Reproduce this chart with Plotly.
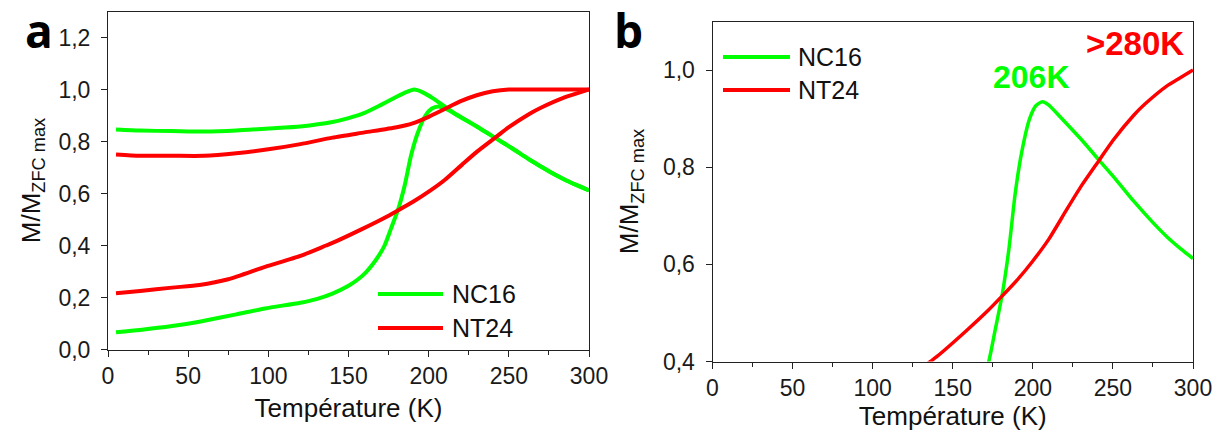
import plotly.graph_objects as go

# ---------------- data ----------------
# NC16 (green) – ZFC branch
T_zfc_nc16 = [5, 20, 40, 57, 80, 98, 120, 130, 140, 150, 156, 161, 165, 169, 172.5,
              176.5, 181, 185, 189, 193, 198, 202, 206, 210, 217, 230, 242, 252, 263,
              275, 284, 292, 300]
M_zfc_nc16 = [0.066, 0.075, 0.09, 0.107, 0.135, 0.158, 0.18, 0.194, 0.215, 0.245, 0.27,
              0.298, 0.327, 0.362, 0.40, 0.465, 0.54, 0.63, 0.746, 0.83, 0.90, 0.927, 0.935,
              0.928, 0.904, 0.858, 0.812, 0.774, 0.73, 0.686, 0.656, 0.633, 0.612]
# NC16 (green) – FC branch
T_fc_nc16 = [5, 20, 40, 60, 80, 100, 120, 140, 150, 160, 170, 180, 186, 191, 196, 203,
             211, 217, 230, 242, 252, 263, 275, 284, 292, 300]
M_fc_nc16 = [0.846, 0.842, 0.84, 0.838, 0.842, 0.85, 0.858, 0.875, 0.89, 0.91, 0.94,
             0.972, 0.99, 1.0, 0.99, 0.965, 0.93, 0.905, 0.858, 0.812, 0.774, 0.73, 0.686,
             0.656, 0.633, 0.612]
# NT24 (red) – ZFC branch
T_zfc_nt24 = [5, 20, 40, 57, 75, 98, 120, 136, 140, 159, 172, 180, 190, 200, 210, 221,
              230, 242, 250, 263, 270, 284, 290, 300]
M_zfc_nt24 = [0.216, 0.225, 0.238, 0.248, 0.27, 0.318, 0.36, 0.40, 0.41, 0.465, 0.505,
              0.532, 0.567, 0.607, 0.652, 0.712, 0.76, 0.817, 0.855, 0.907, 0.93, 0.968,
              0.98, 1.0]
# NT24 (red) – FC branch
T_fc_nt24 = [5, 20, 40, 60, 80, 100, 120, 140, 160, 180, 190, 200, 210, 220, 230, 240,
             250, 260, 280, 300]
M_fc_nt24 = [0.75, 0.745, 0.745, 0.745, 0.755, 0.77, 0.79, 0.815, 0.835, 0.855, 0.87,
             0.895, 0.925, 0.955, 0.978, 0.993, 1.0, 1.0, 1.0, 1.0]

series_names = ["NC16", "NT24"]
x_ticks = [0, 50, 100, 150, 200, 250, 300]
ya_ticks = [0.0, 0.2, 0.4, 0.6, 0.8, 1.0, 1.2]
yb_ticks = [0.4, 0.6, 0.8, 1.0]
peak_labels = ["206K", ">280K"]

GREEN = "#00FF00"
RED = "#FF0000"
FONT = "Liberation Sans"
W, H = 1221, 437


def fmt(v):
    return f"{v:.1f}".replace(".", ",")


fig = go.Figure()

line_kw = dict(mode="lines", showlegend=False, hoverinfo="skip")


def ln(color, width):
    return dict(color=color, width=width, shape="spline", smoothing=0.6)


# panel a
fig.add_trace(go.Scatter(x=T_fc_nc16, y=M_fc_nc16, line=ln(GREEN, 4),
                         xaxis="x", yaxis="y", name="NC16 FC", **line_kw))
fig.add_trace(go.Scatter(x=T_zfc_nc16, y=M_zfc_nc16, line=ln(GREEN, 4),
                         xaxis="x", yaxis="y", name="NC16 ZFC", **line_kw))
fig.add_trace(go.Scatter(x=T_fc_nt24, y=M_fc_nt24, line=ln(RED, 4),
                         xaxis="x", yaxis="y", name="NT24 FC", **line_kw))
fig.add_trace(go.Scatter(x=T_zfc_nt24, y=M_zfc_nt24, line=ln(RED, 4),
                         xaxis="x", yaxis="y", name="NT24 ZFC", **line_kw))
# panel b (ZFC only)
fig.add_trace(go.Scatter(x=T_zfc_nc16, y=M_zfc_nc16, line=ln(GREEN, 3.5),
                         xaxis="x2", yaxis="y2", name="NC16 ZFC", **line_kw))
fig.add_trace(go.Scatter(x=T_zfc_nt24, y=M_zfc_nt24, line=ln(RED, 3.5),
                         xaxis="x2", yaxis="y2", name="NT24 ZFC", **line_kw))

tickfont = dict(family=FONT, size=23, color="#1a1a1a")
titlefont = dict(family=FONT, size=26, color="#111111")

common_x = dict(range=[0, 300], tickvals=x_ticks, ticktext=[str(v) for v in x_ticks],
                ticks="outside", ticklen=6, tickwidth=1, tickcolor="#222",
                minor=dict(dtick=25, ticks="outside", ticklen=4, tickcolor="#222"),
                showline=True, linecolor="#222", linewidth=1, mirror=True,
                showgrid=False, zeroline=False, tickfont=tickfont, automargin=False)
common_y = dict(ticks="outside", ticklen=6, tickwidth=1, tickcolor="#222",
                showline=True, linecolor="#222", linewidth=1, mirror=True,
                showgrid=False, zeroline=False, tickfont=tickfont, automargin=False,
                ticklabelstandoff=6)

fig.update_layout(
    width=W, height=H, margin=dict(l=0, r=0, t=0, b=0),
    paper_bgcolor="white", plot_bgcolor="white",
    xaxis=dict(domain=[108 / W, 589 / W], anchor="y",
               title=dict(text="Température (K)", font=titlefont, standoff=10), **common_x),
    yaxis=dict(domain=[1 - 349.5 / H, 1 - 11.5 / H], anchor="x", range=[0, 1.3],
               tickvals=ya_ticks, ticktext=[fmt(v) for v in ya_ticks],
               title=dict(text="M/M<sub>ZFC max</sub>", font=titlefont, standoff=10),
               **common_y),
    xaxis2=dict(domain=[712.5 / W, 1193 / W], anchor="y2",
                title=dict(text="Température (K)", font=titlefont, standoff=4), **common_x),
    yaxis2=dict(domain=[1 - 361.5 / H, 1 - 21.5 / H], anchor="x2", range=[0.4, 1.1],
                tickvals=yb_ticks, ticktext=[fmt(v) for v in yb_ticks],
                title=dict(text="M/M<sub>ZFC max</sub>", font=titlefont, standoff=16),
                **common_y),
)

# panel letters
fig.add_annotation(text="<b>a</b>", x=39 / W, y=1 - 30 / H, xref="paper", yref="paper",
                   showarrow=False, font=dict(family="Open Sans", size=46, color="black"),
                   xanchor="center", yanchor="middle")
fig.add_annotation(text="<b>b</b>", x=628 / W, y=1 - 30 / H, xref="paper", yref="paper",
                   showarrow=False, font=dict(family="Open Sans", size=46, color="black"),
                   xanchor="center", yanchor="middle")

# transition temperature labels (panel b)
fig.add_annotation(text=f"<b>{peak_labels[0]}</b>", x=199, y=0.986, xref="x2", yref="y2",
                   showarrow=False, font=dict(family=FONT, size=32, color=GREEN),
                   xanchor="center", yanchor="middle")
fig.add_annotation(text=f"<b>{peak_labels[1]}</b>", x=264, y=1.054, xref="x2", yref="y2",
                   showarrow=False, font=dict(family=FONT, size=33, color=RED),
                   xanchor="center", yanchor="middle")

# legends drawn as key lines + labels
legend_font = dict(family=FONT, size=25, color="#111111")
legends = [
    # (x0, x1, text_x, y_first, y_second) in pixels
    (378, 443, 450, 294, 328),
    (723, 790, 796, 57, 90),
]
for x0, x1, tx, ya, yb in legends:
    for name, color, yy in [(series_names[0], GREEN, ya), (series_names[1], RED, yb)]:
        fig.add_shape(type="line", xref="paper", yref="paper",
                      x0=x0 / W, x1=x1 / W, y0=1 - yy / H, y1=1 - yy / H,
                      line=dict(color=color, width=4))
        fig.add_annotation(text=name, x=tx / W, y=1 - yy / H, xref="paper", yref="paper",
                           showarrow=False, font=legend_font,
                           xanchor="left", yanchor="middle")

fig.write_html("out.html", config={"displayModeBar": False},
               post_script="document.body.style.margin='0';")
